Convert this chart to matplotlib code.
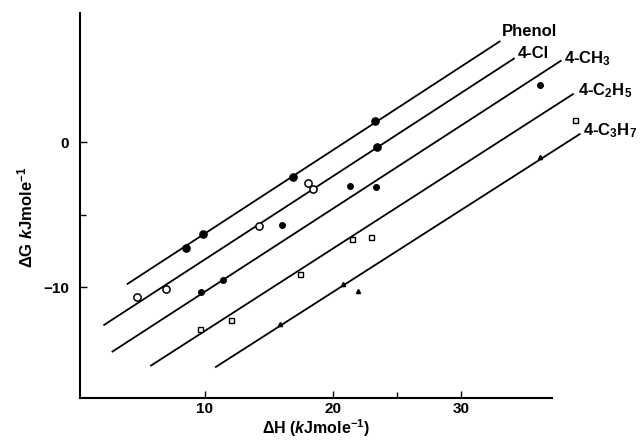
import numpy as np
import matplotlib
matplotlib.use("Agg")
import matplotlib.pyplot as plt

plt.rcParams['font.family'] = ['Liberation Sans', 'DejaVu Sans']
plt.rcParams['font.weight'] = 'bold'
plt.rcParams['mathtext.fontset'] = 'custom'
plt.rcParams['mathtext.rm'] = 'Liberation Sans:bold'
plt.rcParams['mathtext.it'] = 'Liberation Sans:italic:bold'
plt.rcParams['mathtext.bf'] = 'Liberation Sans:bold'

# fitted lines (dH start, dH end, dG start, dG end)
names = ["Phenol", "4-Cl", "4-CH$_3$", "4-C$_2$H$_5$", "4-C$_3$H$_7$"]
line_x0 = [3.91, 2.08, 2.73, 5.73, 10.80]
line_x1 = [33.07, 34.19, 37.84, 38.80, 39.32]
line_y0 = [-9.81, -12.64, -14.48, -15.45, -15.54]
line_y1 = [6.97, 5.79, 5.63, 3.34, 0.58]

# measured points
phenol_dH = [8.54, 9.89, 16.88, 23.25]
phenol_dG = [-7.31, -6.37, -2.41, 1.43]
cl_dH = [4.73, 6.98, 14.19, 18.02, 18.44]
cl_dG = [-10.69, -10.16, -5.77, -2.83, -3.24]
cl_fill_dH = [23.44]
cl_fill_dG = [-0.33]
ch3_dH = [9.67, 11.39, 16.02, 21.35, 23.36, 36.14]
ch3_dG = [-10.34, -9.54, -5.74, -3.01, -3.10, 3.91]
c2h5_dH = [9.58, 12.03, 17.45, 21.48, 22.99, 38.88]
c2h5_dG = [-12.92, -12.30, -9.12, -6.66, -6.55, 1.54]
c3h7_dH = [15.83, 20.78, 21.95, 36.20]
c3h7_dG = [-12.57, -9.81, -10.28, -1.03]

fig = plt.figure(figsize=(6.44, 4.47), dpi=100)
ax = fig.add_axes([80/644, 1-398/447, 472/644, 385/447])

for i in range(len(names)):
    ax.plot([line_x0[i], line_x1[i]], [line_y0[i], line_y1[i]],
            color='black', lw=1.3, clip_on=False, solid_capstyle='butt')

ax.plot(phenol_dH, phenol_dG, 'o', color='black', ms=5.2, clip_on=False)
ax.plot(cl_dH, cl_dG, 'o', mfc='white', mec='black', mew=1.1, ms=5.2, clip_on=False)
ax.plot(cl_fill_dH, cl_fill_dG, 'o', color='black', ms=5.2, clip_on=False)
ax.plot(ch3_dH, ch3_dG, 'o', color='black', ms=4.0, clip_on=False)
ax.plot(c2h5_dH, c2h5_dG, 's', mfc='white', mec='black', mew=1.0, ms=3.6, clip_on=False)
ax.plot(c3h7_dH, c3h7_dG, '^', color='black', ms=3.0, clip_on=False)

# labels at the line ends
lab_x = [33.2, 34.45, 38.0, 39.1, 39.5]
lab_y = [7.63, 6.12, 5.77, 3.57, 0.81]
for i in range(len(names)):
    ax.text(lab_x[i], lab_y[i], names[i], ha='left', va='center',
            fontsize=12, fontweight='bold', clip_on=False)

ax.set_xlim(0.25, 37.1)
ax.set_ylim(-17.65, 8.9)
ax.spines['top'].set_visible(False)
ax.spines['right'].set_visible(False)
ax.spines['left'].set_linewidth(1.5)
ax.spines['bottom'].set_linewidth(1.5)

ax.set_xticks([10, 20, 30])
ax.set_xticks([25], minor=True)
ax.set_yticks([-10, 0])
ax.set_yticks([-5], minor=True)
ax.tick_params(which='both', direction='in', width=1.0)
ax.tick_params(which='major', length=5)
ax.tick_params(which='minor', length=4)
ax.tick_params(axis='x', pad=3, labelsize=11)
ax.tick_params(axis='y', pad=8, labelsize=11)

fig.text(316/644, 1-428/447, r"ΔH ($\mathit{k}$Jmole$^{-1}$)", ha='center', va='center',
         fontsize=11.5, fontweight='bold')
fig.text(25/644, 1-217/447, r"ΔG $\mathit{k}$Jmole$^{-1}$", ha='center', va='center',
         rotation=90, fontsize=12, fontweight='bold')

fig.savefig("out.png", dpi=100)
